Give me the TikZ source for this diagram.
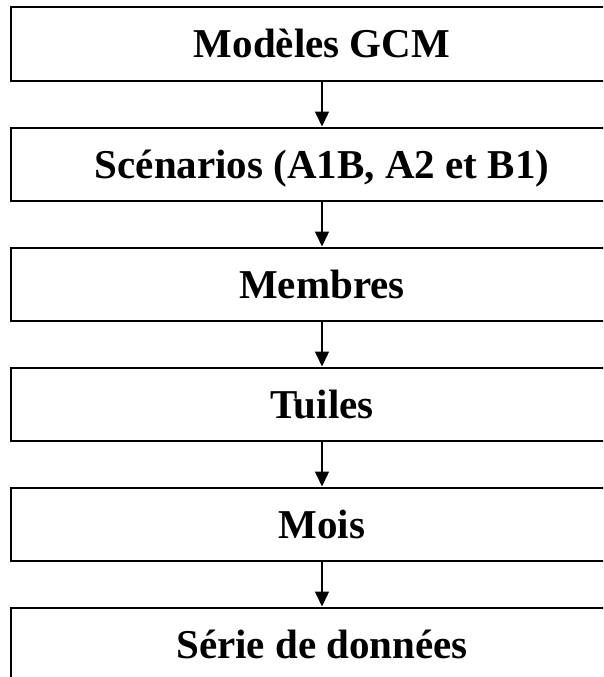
\documentclass[tikz,border=0pt]{standalone}
\usepackage{fontspec}
\setmainfont{Liberation Serif}
\usetikzlibrary{arrows.meta}
\begin{document}
\begin{tikzpicture}[x=1pt,y=-1pt,
  box/.style={draw, line width=2pt, minimum width=622pt, minimum height=73pt,
    inner sep=0pt, text height=28pt, text depth=0pt,
    font=\fontsize{41}{49}\selectfont\bfseries},
  link/.style={line width=1.5pt, -{Triangle[length=15pt,width=14pt]}}]
\useasboundingbox (0,0) rectangle (603,677);
\clip (0,0) rectangle (603,677);
\node[box] (gcm) at (322,44) {Modèles GCM};
\node[box] (scen) at (322,164) {Scénarios (A1B, A2 et B1)};
\node[box] (memb) at (322,284) {Membres};
\node[box] (tuil) at (322,404) {Tuiles};
\node[box] (mois) at (322,524) {Mois};
\node[box] (serie) at (322,644) {Série de données};
\draw[link] (gcm.south) -- (scen.north);
\draw[link] (scen.south) -- (memb.north);
\draw[link] (memb.south) -- (tuil.north);
\draw[link] (tuil.south) -- (mois.north);
\draw[link] (mois.south) -- (serie.north);
\end{tikzpicture}
\end{document}
